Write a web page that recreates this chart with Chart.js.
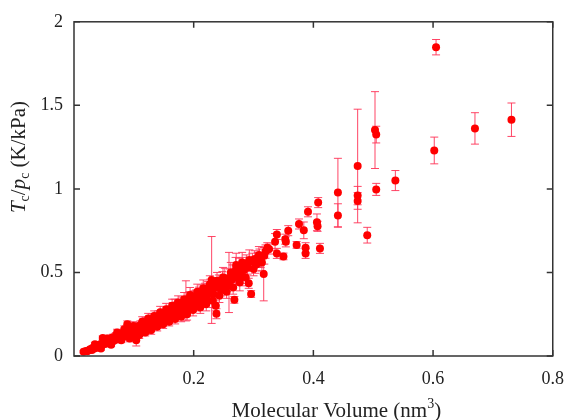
<!DOCTYPE html>
<html lang="en">
<head>
    <meta charset="UTF-8">
    <script src="https://cdn.jsdelivr.net/npm/chart.js@4/dist/chart.umd.min.js"></script>
    <title>Tc/pc vs molecular volume</title>
    <style>
        html, body { margin: 0; padding: 0; background: #fff; }
        #wrap { width: 576px; height: 420px; }
    </style>
</head>
<body>
    <div id="wrap"><canvas id="graf" width="576" height="420"></canvas></div>

    <script>
        // molecular volume (nm^3)
        var volume = [
            0.016, 0.020, 0.022, 0.025, 0.027, 0.030, 0.031, 0.034, 0.036, 0.038,
            0.040, 0.042, 0.044, 0.046, 0.048, 0.048, 0.050, 0.052, 0.054, 0.056,
            0.058, 0.060, 0.061, 0.063, 0.065, 0.066, 0.068, 0.070, 0.071, 0.073,
            0.075, 0.076, 0.078, 0.080, 0.081, 0.083, 0.085, 0.086, 0.088, 0.089,
            0.091, 0.092, 0.094, 0.095, 0.097, 0.098, 0.089, 0.100, 0.101, 0.103,
            0.104, 0.106, 0.104, 0.108, 0.110, 0.111, 0.113, 0.115, 0.116, 0.118,
            0.120, 0.121, 0.123, 0.125, 0.126, 0.128, 0.130, 0.131, 0.133, 0.135,
            0.126, 0.138, 0.140, 0.141, 0.143, 0.145, 0.146, 0.148, 0.150, 0.151,
            0.153, 0.155, 0.156, 0.158, 0.160, 0.161, 0.163, 0.165, 0.166, 0.168,
            0.170, 0.171, 0.173, 0.175, 0.176, 0.178, 0.180, 0.181, 0.183, 0.185,
            0.187, 0.188, 0.190, 0.192, 0.193, 0.195, 0.197, 0.198, 0.200, 0.202,
            0.204, 0.205, 0.207, 0.209, 0.210, 0.212, 0.214, 0.215, 0.217, 0.219,
            0.220, 0.222, 0.224, 0.226, 0.228, 0.230, 0.231, 0.233, 0.235, 0.237,
            0.238, 0.240, 0.242, 0.244, 0.246, 0.248, 0.250, 0.252, 0.254, 0.256,
            0.259, 0.261, 0.263, 0.265, 0.267, 0.268, 0.270, 0.272, 0.274, 0.276,
            0.278, 0.280, 0.282, 0.284, 0.292, 0.288, 0.290, 0.296, 0.298, 0.300,
            0.302, 0.305, 0.307, 0.310, 0.312, 0.317, 0.318, 0.320, 0.323, 0.326,
            0.336, 0.339, 0.339, 0.350, 0.353, 0.354, 0.358, 0.372, 0.376, 0.384,
            0.387, 0.387, 0.391, 0.406, 0.407, 0.408, 0.411, 0.441, 0.441, 0.474,
            0.474, 0.474, 0.490, 0.503, 0.505, 0.505, 0.537, 0.602, 0.605, 0.670,
            0.731,
            0.035, 0.045, 0.055, 0.062, 0.072, 0.079, 0.084, 0.093, 0.099, 0.109,
            0.114, 0.119, 0.124, 0.129, 0.134, 0.139, 0.144, 0.149, 0.154, 0.159,
            0.164, 0.169, 0.174, 0.179, 0.184, 0.189, 0.194, 0.199, 0.206, 0.211,
            0.216, 0.221, 0.227, 0.232, 0.239, 0.243, 0.249, 0.255, 0.262, 0.266,
            0.271, 0.277, 0.281, 0.287, 0.293, 0.303, 0.309, 0.314
        ]

        // Tc/pc (K/kPa)
        var ratio = [
            0.025, 0.030, 0.028, 0.035, 0.040, 0.036, 0.048, 0.045, 0.055, 0.050,
            0.062, 0.058, 0.070, 0.066, 0.108, 0.075, 0.082, 0.072, 0.090, 0.085,
            0.098, 0.080, 0.105, 0.095, 0.112, 0.090, 0.104, 0.120, 0.098, 0.115,
            0.128, 0.108, 0.122, 0.135, 0.112, 0.128, 0.140, 0.118, 0.150, 0.130,
            0.145, 0.122, 0.158, 0.138, 0.150, 0.172, 0.190, 0.132, 0.160, 0.145,
            0.175, 0.155, 0.095, 0.168, 0.150, 0.185, 0.162, 0.178, 0.195, 0.170,
            0.185, 0.200, 0.160, 0.192, 0.210, 0.180, 0.200, 0.222, 0.190, 0.212,
            0.164, 0.228, 0.205, 0.240, 0.218, 0.235, 0.200, 0.250, 0.225, 0.245,
            0.210, 0.260, 0.238, 0.225, 0.270, 0.248, 0.232, 0.285, 0.258, 0.300,
            0.270, 0.245, 0.290, 0.262, 0.305, 0.280, 0.255, 0.318, 0.295, 0.270,
            0.330, 0.305, 0.285, 0.325, 0.345, 0.300, 0.335, 0.315, 0.350, 0.325,
            0.360, 0.300, 0.340, 0.372, 0.350, 0.320, 0.385, 0.360, 0.335, 0.395,
            0.370, 0.350, 0.405, 0.380, 0.415, 0.455, 0.395, 0.370, 0.425, 0.300,
            0.253, 0.410, 0.440, 0.420, 0.395, 0.455, 0.430, 0.465, 0.445, 0.420,
            0.440, 0.470, 0.455, 0.495, 0.480, 0.336, 0.510, 0.490, 0.465, 0.525,
            0.500, 0.475, 0.540, 0.515, 0.435, 0.555, 0.530, 0.371, 0.565, 0.520,
            0.580, 0.549, 0.575, 0.590, 0.570, 0.490, 0.600, 0.625, 0.648, 0.640,
            0.683, 0.727, 0.614, 0.596, 0.699, 0.683, 0.750, 0.665, 0.790, 0.752,
            0.648, 0.614, 0.863, 0.800, 0.776, 0.918, 0.644, 0.978, 0.841, 1.137,
            0.960, 0.928, 0.723, 1.352, 1.325, 0.997, 1.050, 1.230, 1.848, 1.362,
            1.414,
            0.070, 0.045, 0.105, 0.068, 0.140, 0.095, 0.160, 0.105, 0.180, 0.125,
            0.205, 0.140, 0.225, 0.155, 0.240, 0.175, 0.262, 0.190, 0.280, 0.205,
            0.300, 0.222, 0.320, 0.235, 0.340, 0.250, 0.365, 0.275, 0.385, 0.290,
            0.405, 0.310, 0.430, 0.330, 0.450, 0.360, 0.470, 0.385, 0.500, 0.410,
            0.545, 0.440, 0.560, 0.470, 0.575, 0.545, 0.605, 0.560
        ]

        // error bar half-height (K/kPa)
        var ratioErr = [
            0.006, 0.008, 0.005, 0.008, 0.010, 0.006, 0.010, 0.008, 0.010, 0.009,
            0.012, 0.010, 0.012, 0.010, 0.012, 0.012, 0.015, 0.010, 0.015, 0.012,
            0.015, 0.012, 0.020, 0.015, 0.018, 0.012, 0.015, 0.020, 0.015, 0.018,
            0.020, 0.015, 0.018, 0.020, 0.015, 0.020, 0.020, 0.015, 0.025, 0.020,
            0.020, 0.018, 0.025, 0.020, 0.020, 0.020, 0.020, 0.020, 0.025, 0.020,
            0.025, 0.020, 0.035, 0.025, 0.020, 0.025, 0.020, 0.025, 0.030, 0.020,
            0.025, 0.030, 0.020, 0.025, 0.030, 0.020, 0.025, 0.030, 0.020, 0.025,
            0.030, 0.030, 0.025, 0.030, 0.025, 0.030, 0.020, 0.030, 0.025, 0.030,
            0.020, 0.030, 0.025, 0.025, 0.030, 0.025, 0.020, 0.035, 0.030, 0.040,
            0.030, 0.025, 0.035, 0.030, 0.035, 0.030, 0.025, 0.035, 0.030, 0.030,
            0.120, 0.030, 0.025, 0.035, 0.040, 0.030, 0.035, 0.030, 0.040, 0.030,
            0.035, 0.030, 0.030, 0.040, 0.035, 0.030, 0.040, 0.035, 0.030, 0.040,
            0.035, 0.030, 0.040, 0.035, 0.045, 0.260, 0.040, 0.030, 0.040, 0.030,
            0.030, 0.040, 0.045, 0.040, 0.035, 0.050, 0.040, 0.060, 0.040, 0.035,
            0.180, 0.050, 0.040, 0.050, 0.040, 0.020, 0.080, 0.040, 0.040, 0.060,
            0.050, 0.040, 0.050, 0.050, 0.030, 0.050, 0.040, 0.020, 0.050, 0.040,
            0.050, 0.040, 0.045, 0.050, 0.040, 0.160, 0.050, 0.040, 0.030, 0.030,
            0.050, 0.030, 0.030, 0.020, 0.030, 0.030, 0.030, 0.020, 0.030, 0.050,
            0.030, 0.030, 0.030, 0.050, 0.030, 0.030, 0.030, 0.205, 0.070, 0.340,
            0.055, 0.050, 0.047, 0.230, 0.050, 0.036, 0.060, 0.080, 0.046, 0.094,
            0.100,
            0.012, 0.010, 0.015, 0.012, 0.020, 0.015, 0.020, 0.020, 0.025, 0.020,
            0.030, 0.020, 0.030, 0.025, 0.030, 0.025, 0.035, 0.025, 0.035, 0.025,
            0.040, 0.030, 0.040, 0.030, 0.040, 0.035, 0.045, 0.035, 0.045, 0.035,
            0.050, 0.040, 0.050, 0.040, 0.050, 0.040, 0.060, 0.040, 0.060, 0.040,
            0.070, 0.050, 0.060, 0.050, 0.060, 0.050, 0.050, 0.050
        ]

        var xTicks = [0.2, 0.4, 0.6, 0.8]
        var yTicks = [0, 0.5, 1, 1.5, 2]

        var points = volume.map(function (v, i) {
            return { x: v, y: ratio[i], err: ratioErr[i] }
        })

        // vertical error bars with small caps, drawn behind the dots
        var errorBars = {
            id: "errorBars",
            beforeDatasetsDraw: function (chart) {
                var ctx = chart.ctx
                var xs = chart.scales.x
                var ys = chart.scales.y
                ctx.save()
                ctx.strokeStyle = "rgba(255,50,85,0.9)"
                ctx.lineWidth = 1
                points.forEach(function (p) {
                    var px = xs.getPixelForValue(p.x)
                    var top = ys.getPixelForValue(p.y + p.err)
                    var bot = ys.getPixelForValue(p.y - p.err)
                    ctx.beginPath()
                    ctx.moveTo(px, top)
                    ctx.lineTo(px, bot)
                    ctx.moveTo(px - 4, top)
                    ctx.lineTo(px + 4, top)
                    ctx.moveTo(px - 4, bot)
                    ctx.lineTo(px + 4, bot)
                    ctx.stroke()
                })
                ctx.restore()
            }
        }

        // gnuplot-like frame with inward ticks on all sides, plus the axis titles
        var frame = {
            id: "frame",
            afterDraw: function (chart) {
                var ctx = chart.ctx
                var a = chart.chartArea
                var xs = chart.scales.x
                var ys = chart.scales.y
                ctx.save()
                ctx.strokeStyle = "#333"
                ctx.lineWidth = 1.5
                ctx.strokeRect(a.left, a.top, a.right - a.left, a.bottom - a.top)
                ctx.beginPath()
                xTicks.forEach(function (t) {
                    var px = xs.getPixelForValue(t)
                    ctx.moveTo(px, a.bottom); ctx.lineTo(px, a.bottom - 6)
                    ctx.moveTo(px, a.top); ctx.lineTo(px, a.top + 6)
                })
                yTicks.forEach(function (t) {
                    var py = ys.getPixelForValue(t)
                    ctx.moveTo(a.left, py); ctx.lineTo(a.left + 6, py)
                    ctx.moveTo(a.right, py); ctx.lineTo(a.right - 6, py)
                })
                ctx.stroke()

                ctx.fillStyle = "#222"
                ctx.textBaseline = "alphabetic"

                // x title: Molecular Volume (nm^3)
                var big = "21px 'Liberation Serif'"
                var small = "14px 'Liberation Serif'"
                ctx.font = big
                var w1 = ctx.measureText("Molecular Volume (nm").width
                var w3 = ctx.measureText(")").width
                ctx.font = small
                var w2 = ctx.measureText("3").width
                var cx = (a.left + a.right) / 2 + 23
                var x0 = cx - (w1 + w2 + w3) / 2
                var by = 417
                ctx.font = big
                ctx.fillText("Molecular Volume (nm", x0, by)
                ctx.font = small
                ctx.fillText("3", x0 + w1, by - 9)
                ctx.font = big
                ctx.fillText(")", x0 + w1 + w2, by)

                // y title: Tc/pc (K/kPa), rotated
                var parts = [
                    { t: "T", f: "italic 21px 'Liberation Serif'", dy: 0 },
                    { t: "c", f: "14px 'Liberation Serif'", dy: 4 },
                    { t: "/", f: "21px 'Liberation Serif'", dy: 0 },
                    { t: "p", f: "italic 21px 'Liberation Serif'", dy: 0 },
                    { t: "c", f: "14px 'Liberation Serif'", dy: 4 },
                    { t: " (K/kPa)", f: "21px 'Liberation Serif'", dy: 0 }
                ]
                var total = 0
                parts.forEach(function (p) { ctx.font = p.f; p.w = ctx.measureText(p.t).width; total += p.w })
                ctx.translate(25, 157)
                ctx.rotate(-Math.PI / 2)
                var x = -total / 2
                parts.forEach(function (p) {
                    ctx.font = p.f
                    ctx.fillText(p.t, x, p.dy)
                    x += p.w
                })
                ctx.restore()
            }
        }

        new Chart("graf", {
            type: "scatter",
            data: {
                datasets: [{
                    data: points,
                    backgroundColor: "#ff0000",
                    borderWidth: 0,
                    pointRadius: 4,
                    pointHoverRadius: 4
                }]
            },
            options: {
                responsive: false,
                animation: false,
                events: [],
                layout: { padding: { top: 20, right: 12, left: 0, bottom: 0 } },
                plugins: { legend: { display: false }, tooltip: { enabled: false } },
                scales: {
                    x: {
                        type: "linear",
                        min: 0,
                        max: 0.8,
                        afterFit: function (s) { s.height = 64 },
                        afterBuildTicks: function (s) { s.ticks = xTicks.map(function (v) { return { value: v } }) },
                        grid: { display: false, drawTicks: false },
                        border: { display: false },
                        ticks: {
                            padding: 12,
                            color: "#222",
                            maxRotation: 0,
                            callback: function (v) { return String(v) },
                            font: { family: "'Liberation Serif'", size: 18 }
                        }
                    },
                    y: {
                        type: "linear",
                        min: 0,
                        max: 2,
                        afterFit: function (s) { s.width = 74 },
                        afterBuildTicks: function (s) { s.ticks = yTicks.map(function (v) { return { value: v } }) },
                        grid: { display: false, drawTicks: false },
                        border: { display: false },
                        ticks: {
                            padding: 11,
                            color: "#222",
                            callback: function (v) { return String(v) },
                            font: { family: "'Liberation Serif'", size: 18 }
                        }
                    }
                }
            },
            plugins: [errorBars, frame]
        })
    </script>
</body>
</html>
